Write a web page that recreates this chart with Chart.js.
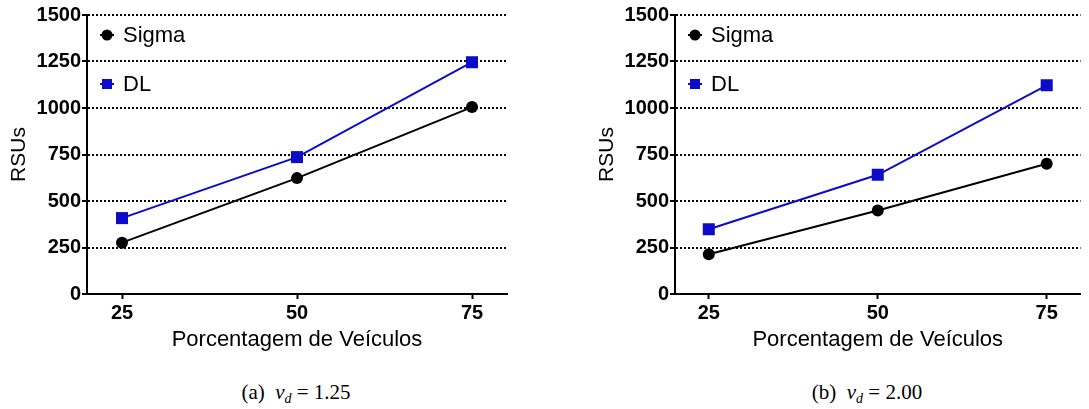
<!DOCTYPE html>
<html>
<head>
<meta charset="utf-8">
<script src="https://cdn.jsdelivr.net/npm/chart.js@4/dist/chart.umd.min.js"></script>
<style>
  body { margin: 0; background: #fff; width: 1089px; height: 409px; position: relative; overflow: hidden; }
  canvas { position: absolute; top: 0; }
  #chartA { left: 0; }
  #chartB { left: 588px; }
  .caption { position: absolute; top: 382px; font-family: "Liberation Serif", "Times New Roman", serif; font-size: 21px; line-height: 20px; white-space: nowrap; transform: translateX(-50%); }
  .caption sub { font-size: 14px; vertical-align: -4px; line-height: 0; }
</style>
</head>
<body>
<canvas id="chartA" width="520" height="360"></canvas>
<canvas id="chartB" width="501" height="360"></canvas>
<div class="caption" style="left:296px">(a)&nbsp;&nbsp;<i>v<sub>d</sub></i> = 1.25</div>
<div class="caption" style="left:867px">(b)&nbsp;&nbsp;<i>v<sub>d</sub></i> = 2.00</div>
<script>
// x values (porcentagem de veiculos)
var percentages = [25, 50, 75];
// (a) vd = 1.25
var sigmaA = [276, 623, 1005];
var dlA = [408, 736, 1246];
// (b) vd = 2.00
var sigmaB = [214, 449, 700];
var dlB = [348, 641, 1122];
// y tick labels
var yTicks = [0, 250, 500, 750, 1000, 1250, 1500];

var seriesNames = ["Sigma", "DL"];
var blue = "#0c0cc8";
var sans = "'Liberation Sans', Arial, Helvetica, sans-serif";

function toPoints(values) {
     var pts = [];
     for (var i = 0; i < percentages.length; i++) {
          pts.push({ x: percentages[i], y: values[i] });
     }
     return pts;
}

// legend drawn inside the plot, top-left
var insideLegend = {
     id: "insideLegend",
     afterDraw: function (chart) {
          var ctx = chart.ctx;
          var area = chart.chartArea;
          ctx.save();
          chart.data.datasets.forEach(function (ds, i) {
               var mx = area.left + 20;
               var my = area.top + 20 + i * 49;
               ctx.strokeStyle = ds.borderColor;
               ctx.fillStyle = ds.borderColor;
               ctx.lineWidth = 2;
               ctx.beginPath();
               ctx.moveTo(mx - 7, my);
               ctx.lineTo(mx + 7, my);
               ctx.stroke();
               if (ds.pointStyle === "rect") {
                    ctx.fillRect(mx - 5, my - 5, 10, 10);
               } else {
                    ctx.beginPath();
                    ctx.arc(mx, my, 5.5, 0, Math.PI * 2);
                    ctx.fill();
               }
               ctx.fillStyle = "#000";
               ctx.font = "22px " + sans;
               ctx.textAlign = "left";
               ctx.textBaseline = "middle";
               ctx.fillText(ds.label, mx + 16, my + 1);
          });
          ctx.restore();
     }
};

function makeChart(id, sigma, dl, rightPad) {
     var el = document.getElementById(id).getContext("2d");
     return new Chart(el, {
          type: "line",
          data: {
               datasets: [
                    {
                         label: seriesNames[0],
                         data: toPoints(sigma),
                         borderColor: "#000",
                         backgroundColor: "#000",
                         borderWidth: 2,
                         pointStyle: "circle",
                         pointRadius: 6,
                         pointBorderWidth: 0,
                         tension: 0
                    },
                    {
                         label: seriesNames[1],
                         data: toPoints(dl),
                         borderColor: blue,
                         backgroundColor: blue,
                         borderWidth: 2,
                         pointStyle: "rect",
                         pointRadius: 8.5,
                         pointBorderWidth: 0,
                         tension: 0
                    }
               ]
          },
          options: {
               responsive: false,
               animation: false,
               layout: { padding: { top: 15, right: rightPad, left: 0, bottom: 0 } },
               plugins: { legend: { display: false }, tooltip: { enabled: false } },
               scales: {
                    x: {
                         type: "linear",
                         min: 20,
                         max: 80,
                         afterBuildTicks: function (scale) {
                              scale.ticks = percentages.map(function (v) { return { value: v }; });
                         },
                         afterFit: function (scale) { scale.height = 66; },
                         grid: { display: true, drawOnChartArea: false, drawTicks: true, tickLength: 5, tickColor: "#000", tickWidth: 2 },
                         border: { display: true, color: "#000", width: 2 },
                         ticks: { color: "#000", padding: 2, font: { family: sans, size: 20, weight: "bold" }, callback: function (v) { return String(v); } },
                         title: { display: true, text: "Porcentagem de Veículos", color: "#000", padding: { top: 0, bottom: 7 }, font: { family: sans, size: 22 } }
                    },
                    y: {
                         min: 0,
                         max: 1500,
                         afterBuildTicks: function (scale) {
                              scale.ticks = yTicks.map(function (v) { return { value: v }; });
                         },
                         afterFit: function (scale) { scale.width = 87; },
                         grid: { color: "#000", lineWidth: 2, drawTicks: true, tickLength: 5, tickColor: "#000", tickWidth: 2, tickBorderDash: [] },
                         border: { display: true, color: "#000", width: 2, dash: [2, 2] },
                         ticks: { color: "#000", padding: 1, font: { family: sans, size: 20, weight: "bold" }, callback: function (v) { return String(v); } },
                         title: { display: true, text: "RSUs", color: "#000", padding: { top: 7, bottom: 0 }, font: { family: sans, size: 21 } }
                    }
               }
          },
          plugins: [insideLegend]
     });
}

makeChart("chartA", sigmaA, dlA, 13);
makeChart("chartB", sigmaB, dlB, 0);
</script>
</body>
</html>
